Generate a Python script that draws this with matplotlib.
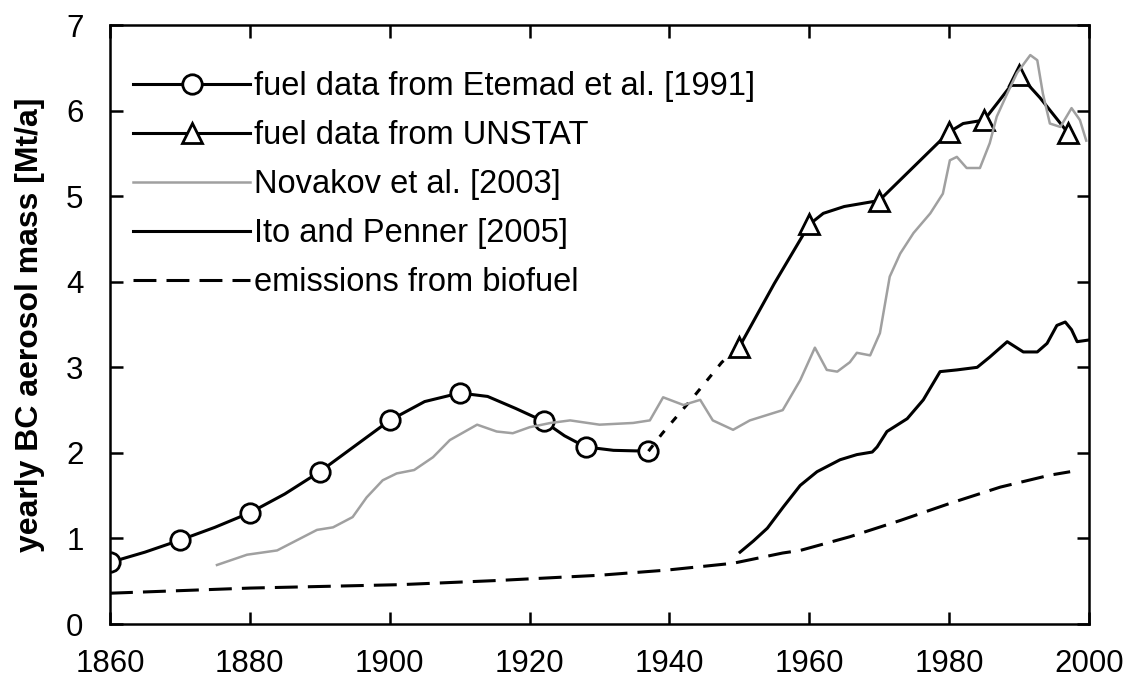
import matplotlib
matplotlib.use("Agg")
import matplotlib.pyplot as plt

plt.rcParams['font.family'] = ['Liberation Sans', 'DejaVu Sans']

# fuel data from Etemad et al. [1991]
etemad_years = [1860, 1865, 1870, 1875, 1880, 1885, 1890, 1895, 1900, 1905, 1910,
                1914, 1918, 1922, 1925, 1928, 1932, 1937]
etemad_vals = [0.72, 0.84, 0.98, 1.13, 1.30, 1.52, 1.78, 2.08, 2.38, 2.60, 2.70,
               2.66, 2.52, 2.37, 2.20, 2.07, 2.03, 2.02]
etemad_marks = [1860, 1870, 1880, 1890, 1900, 1910, 1922, 1928, 1937]

# dotted gap between the two fuel records
gap_years = [1937, 1939, 1943.4, 1947.5, 1950]
gap_vals = [2.02, 2.23, 2.65, 3.06, 3.24]

# fuel data from UNSTAT
unstat_years = [1950, 1955, 1960, 1962, 1965, 1970, 1975, 1980, 1982, 1985, 1987,
                1990, 1993, 1997]
unstat_vals = [3.24, 3.98, 4.67, 4.80, 4.88, 4.95, 5.35, 5.75, 5.85, 5.89, 6.10,
               6.42, 6.15, 5.74]
unstat_marks = [1950, 1960, 1970, 1980, 1985, 1990, 1997]

# Novakov et al. [2003]
nov_years = [1875.3, 1879.6, 1883.9, 1889.6, 1891.9, 1894.7, 1896.7, 1899, 1901, 1903.5,
             1906.2, 1908.6, 1912.5, 1915.3, 1917.6, 1920, 1923, 1925.8, 1930, 1934.8,
             1937.2, 1939.1, 1942, 1944.4, 1946.2, 1949.1, 1951.5, 1956.2, 1958.7, 1960.8,
             1962.5, 1964, 1965.8, 1966.8, 1968.7, 1970.1, 1971.5, 1973, 1974.9, 1977.3,
             1979.1, 1980.1, 1981.1, 1982.5, 1984.4, 1985.8, 1986.8, 1988.3, 1989.7, 1991.6,
             1992.6, 1993.4, 1994.4, 1995.9, 1997.5, 1998.7, 1999.6]
nov_vals = [0.69, 0.81, 0.86, 1.10, 1.13, 1.25, 1.48, 1.68, 1.76, 1.80,
            1.95, 2.15, 2.33, 2.25, 2.23, 2.30, 2.35, 2.38, 2.33, 2.35,
            2.38, 2.65, 2.56, 2.62, 2.38, 2.27, 2.38, 2.50, 2.85, 3.23,
            2.97, 2.95, 3.06, 3.17, 3.14, 3.40, 4.06, 4.33, 4.57, 4.80,
            5.03, 5.42, 5.46, 5.33, 5.33, 5.62, 5.93, 6.20, 6.44, 6.65,
            6.59, 6.20, 5.85, 5.81, 6.03, 5.89, 5.65]

# Ito and Penner [2005]
ito_years = [1950.1, 1952, 1954, 1956.3, 1958.7, 1961.1, 1964.4, 1966.8, 1969, 1969.7,
             1971.1, 1974, 1976.3, 1978.7, 1981.1, 1984, 1985.8, 1988.3, 1990.6, 1992.6,
             1994, 1995.4, 1996.6, 1997.5, 1998.3, 2000]
ito_vals = [0.84, 0.97, 1.12, 1.37, 1.62, 1.78, 1.92, 1.98, 2.01, 2.07,
            2.25, 2.40, 2.62, 2.95, 2.97, 3.00, 3.12, 3.30, 3.18, 3.18,
            3.28, 3.49, 3.53, 3.44, 3.30, 3.32]

# emissions from biofuel
bio_years = [1860, 1880, 1901.5, 1915.8, 1930, 1939.6, 1949.1, 1956.2, 1958.7, 1965.8,
             1973, 1980.1, 1987.3, 1994.4, 1997.3]
bio_vals = [0.36, 0.42, 0.46, 0.51, 0.57, 0.63, 0.71, 0.83, 0.86, 1.02,
            1.21, 1.41, 1.60, 1.74, 1.78]

fig = plt.figure(figsize=(11.29, 6.98), dpi=100)
ax = fig.add_axes([0.0974, 0.106, 0.8672, 0.858])

ax.plot(etemad_years, etemad_vals, color='black', lw=2.2,
        marker='o', ms=14, mfc='white', mec='black', mew=2,
        markevery=[etemad_years.index(y) for y in etemad_marks],
        label='fuel data from Etemad et al. [1991]')
ax.plot(gap_years, gap_vals, color='black', lw=2.2, linestyle=(0, (2.5, 3.5)))
ax.plot(unstat_years, unstat_vals, color='black', lw=2.2,
        marker='^', ms=14, mfc='white', mec='black', mew=2,
        markevery=[unstat_years.index(y) for y in unstat_marks],
        label='fuel data from UNSTAT')
ax.plot(nov_years, nov_vals, color='#a0a0a0', lw=1.8, label='Novakov et al. [2003]')
ax.plot(ito_years, ito_vals, color='black', lw=2.2, label='Ito and Penner [2005]')
ax.plot(bio_years, bio_vals, color='black', lw=2.2, linestyle=(0, (7.5, 3.3)),
        label='emissions from biofuel')

ax.set_xlim(1860, 2000)
ax.set_ylim(0, 7)
ax.set_xticks(range(1860, 2001, 20))
ax.set_yticks(range(0, 8))
ax.tick_params(direction='in', length=9, width=1.8, top=True, right=True,
               labelsize=22.5)
ax.tick_params(axis='x', pad=18)
ax.tick_params(axis='y', pad=19)
for s in ax.spines.values():
    s.set_linewidth(1.8)

ax.set_ylabel('yearly BC aerosol mass [Mt/a]', fontsize=23, fontweight='bold', labelpad=15)

ax.legend(loc='upper left', bbox_to_anchor=(0.010, 0.945), frameon=False, fontsize=23.5,
          handlelength=3.6, handletextpad=0.1, labelspacing=0.55, borderaxespad=0)

fig.savefig('out.png', dpi=100)
